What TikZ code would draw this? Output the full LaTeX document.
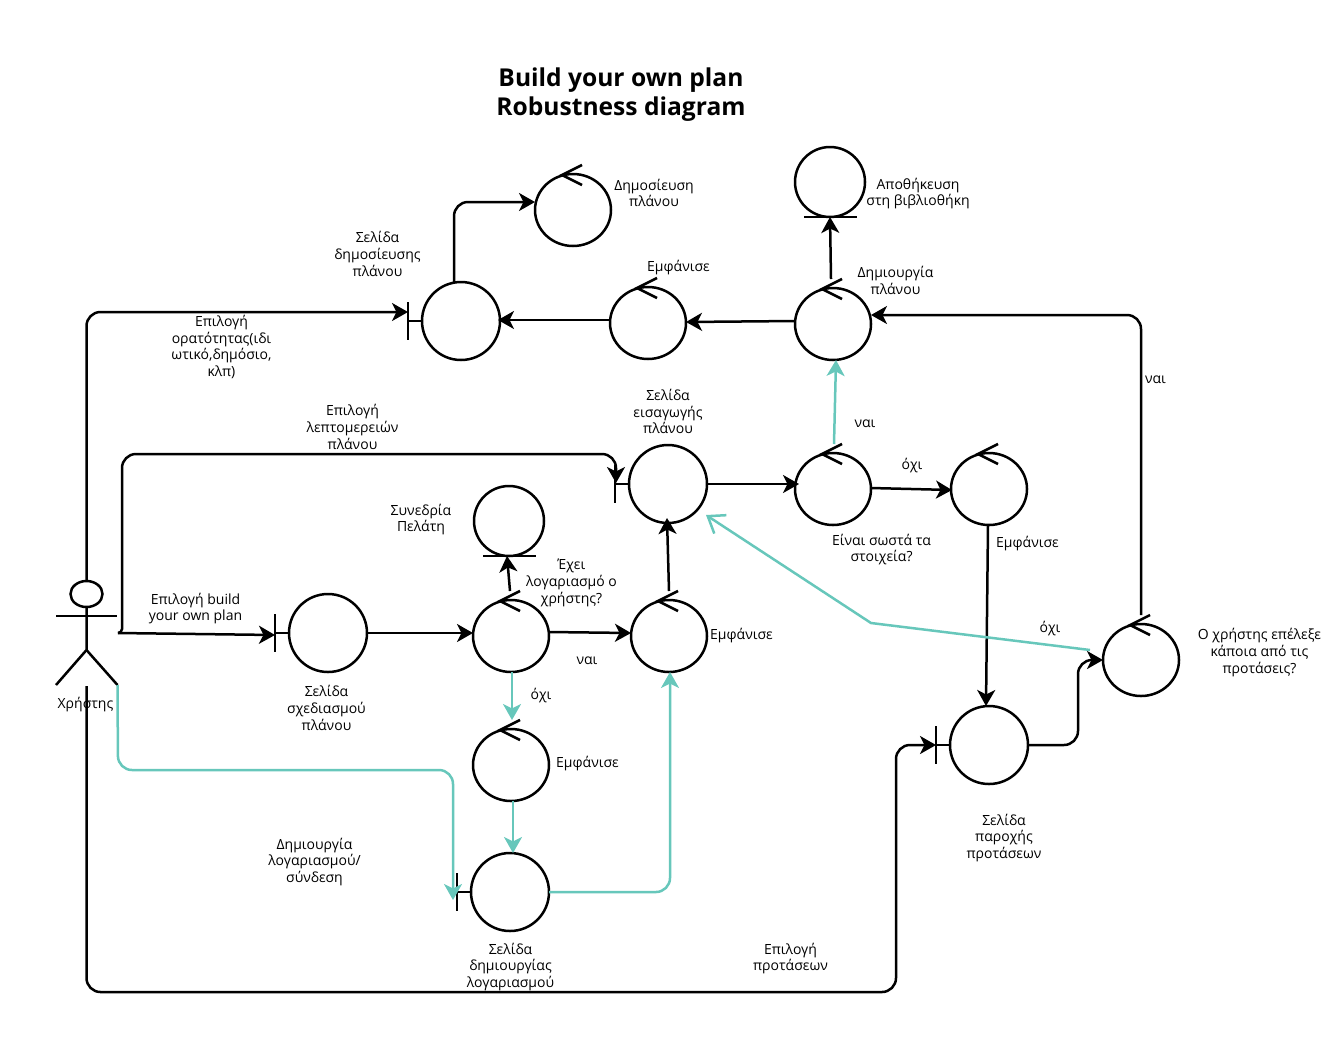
\documentclass[tikz,border=0pt]{standalone}
\usepackage{fontspec}
\setmainfont{Open Sans}
\usetikzlibrary{arrows.meta,shapes.geometric,calc}
\definecolor{tealc}{HTML}{67C7BB}
\tikzset{
  x=1pt,y=-1pt,
  every node/.style={font=\fontsize{14}{16.8}\selectfont,align=center,inner sep=0pt,outer sep=0pt},
  shapeline/.style={draw=black,line width=2.5pt,fill=none},
  obj/.style={shape=ellipse,draw=black,line width=2.5pt,minimum width=#1,minimum height=#1},
  conn/.style={draw=black,line width=2.5pt,rounded corners=14pt,-{Stealth[length=16pt,width=18pt,inset=4.5pt]}},
  tealconn/.style={conn,draw=tealc,color=tealc},
  tealopen/.style={draw=tealc,line width=2.5pt,-{Straight Barb[length=15pt,width=22pt,color=tealc]}},
  titletext/.style={font=\fontsize{24.6}{29}\selectfont\bfseries},
}
% controller: circle with a chevron on top
\newcommand{\ctrlobj}[3]{%
  \node[shape=ellipse,draw=black,line width=2.5pt,minimum width=76pt,minimum height=72pt] (#1) at (#2,#3) {};
  \draw[shapeline] (#2+9,#3-45) -- (#2-11,#3-35) -- (#2+9,#3-25);
  \coordinate (#1 t) at (#2,#3-45);
}
% boundary: circle with a bar on the left
\newcommand{\boundobj}[3]{%
  \node[obj=78pt] (#1) at (#2,#3) {};
  \coordinate (#1 bar) at (#2-53,#3);
  \draw[shapeline] (#2-53,#3-19) -- (#2-53,#3+19);
  \draw[shapeline] (#1 bar) -- (#1.west);
}
% entity: circle with a bar underneath
\newcommand{\entobj}[3]{%
  \node[obj=70pt] (#1) at (#2,#3) {};
  \coordinate (#1 bar) at (#2,#3+35);
  \draw[shapeline] (#2-26,#3+35) -- (#2+27,#3+35);
}
\begin{document}
\begin{tikzpicture}
\useasboundingbox (0,0) rectangle (1332,1045);
\node[titletext] (title) at (621,94.5) {Build your own plan\\Robustness diagram};

% actor
\node[shape=ellipse,draw=black,line width=2.5pt,minimum width=32pt,minimum height=26pt] (head) at (86.5,594) {};
\coordinate (hip) at (86.5,650);
\coordinate (armL) at (56,616);
\coordinate (armR) at (117,616);
\coordinate (legL) at (56,685);
\coordinate (legR) at (117.5,685);
\coordinate (hand) at (118,633);
\coordinate (foot) at (86.5,686);
\coordinate (bend) at (871,623);
\coordinate (chosenback) at (1090,650);
\draw[shapeline] (head.south) -- (hip) -- (legL);
\draw[shapeline] (hip) -- (legR);
\draw[shapeline] (armL) -- (armR);
\node (actorlabel) at (85.5,705) {Χρήστης};

% objects
\ctrlobj{pub}{573}{210}
\entobj{store}{830}{182}
\ctrlobj{make}{833}{324}
\ctrlobj{showa}{648}{323}
\boundobj{bpub}{461}{321}
\boundobj{binput}{668}{484}
\ctrlobj{check}{833}{489}
\ctrlobj{showb}{989}{489}
\entobj{sess}{509}{521}
\ctrlobj{has}{511}{636}
\ctrlobj{showc}{669}{636}
\boundobj{bplan}{328}{633}
\ctrlobj{showd}{511}{765}
\boundobj{bacc}{510}{892}
\boundobj{bsug}{989}{745}
\ctrlobj{chosen}{1141}{660}

% black connectors
\draw[conn] (head.north) -- (86.5,312) -- (bpub bar |- 0,312);
\draw[conn] [rounded corners=4pt] (hand) -- (122,633) [rounded corners=14pt] -- (122,454) -- (616,454) -- (616,483);
\draw[conn] (hand) -- ($(bplan bar)+(0,2)$);
\draw[conn] (foot) -- (86.5,992) -- (896,992) -- (896,745) -- (bsug bar);
\draw[conn] (bplan.east) -- ($(has.west)+(0,-3)$);
\draw[conn] ($(has.east)+(0,-4)$) -- ($(showc.west)+(0,-3)$);
\draw[conn] ($(has t)+(-1,0)$) -- ($(sess bar)+(-2,0)$);
\draw[conn] (showc t) -- ($(binput.south)+(-1,-5)$);
\draw[conn] (binput.east) -- ($(check.west)+(4,-5)$);
\draw[conn] ($(check.east)+(0,-1)$) -- ($(showb.west)+(1,1)$);
\draw[conn] ($(showb.south)+(-1,0)$) -- ($(bsug.north)+(-3,0)$);
\draw[conn] (bsug.east) -- (1078,745) -- (1078,660) -- (chosen.west);
\draw[conn] (chosen t) -- (1141,315) -- ($(make.east)+(0,-9)$);
\draw[conn] ($(make.west)+(0,-3)$) -- ($(showa.east)+(0,-1)$);
\draw[conn] ($(showa.west)+(0,-3)$) -- ($(bpub.east)+(-2,-1)$);
\draw[conn] (bpub.100) -- (454,202) -- ($(pub.west)+(0,-8)$);
\draw[conn] ($(make t)+(-2,0)$) -- (store bar);

% teal connectors
\draw[tealconn] (legR) -- (118,770) -- (453,770) -- (453,900);
\draw[tealconn] ($(has.south)+(1,0)$) -- ($(showd t)+(1,0)$);
\draw[tealconn] ($(showd.south)+(2,0)$) -- ($(bacc.north)+(3,0)$);
\draw[tealconn] (bacc.east) -- (670,892) -- ($(showc.south)+(1,0)$);
\draw[tealconn] ($(check t)+(1,0)$) -- ($(make.south)+(3,0)$);
\draw[tealopen] (chosenback) -- (bend) -- ($(binput.east)+(-1,31)$);

% labels
\node (l1) at (654,193) {Δημοσίευση\\πλάνου};
\node (l2) at (918,193.5) {Αποθήκευση\\στη βιβλιοθήκη};
\node (l3) at (377.5,254) {Σελίδα\\δημοσίευσης\\πλάνου};
\node (l4) at (678.5,267.5) {Εμφάνισε};
\node (l5) at (895.5,280.5) {Δημιουργία\\πλάνου};
\node (l6) at (221.5,347) {Επιλογή\\ορατότητας(ιδι\\ωτικό,δημόσιο,\\κλπ)};
\node (l7) at (1155.5,380) {ναι};
\node (l8) at (352.5,427) {Επιλογή\\λεπτομερειών\\πλάνου};
\node (l9) at (668,411.5) {Σελίδα\\εισαγωγής\\πλάνου};
\node (l10) at (865,424) {ναι};
\node (l11) at (912,466) {όχι};
\node (l12) at (421,519.5) {Συνεδρία\\Πελάτη};
\node (l13) at (881.5,549.5) {Είναι σωστά τα\\στοιχεία?};
\node (l14) at (1027.5,544) {Εμφάνισε};
\node (l15) at (571.5,583) {Έχει\\λογαριασμό ο\\χρήστης?};
\node (l16) at (195.5,608.5) {Επιλογή build\\your own plan};
\node (l17) at (741.5,636) {Εμφάνισε};
\node (l18) at (1050,629) {όχι};
\node (l19) at (1259.5,652.5) {Ο χρήστης επέλεξε\\κάποια από τις\\προτάσεις?};
\node (l20) at (587,661) {ναι};
\node (l21) at (326.5,708) {Σελίδα\\σχεδιασμού\\πλάνου};
\node (l22) at (541,696) {όχι};
\node (l23) at (587.5,764) {Εμφάνισε};
\node (l24) at (1004,838) {Σελίδα\\παροχής\\προτάσεων};
\node (l25) at (314.5,862) {Δημιουργία\\λογαριασμού/\\σύνδεση};
\node (l26) at (510.5,967) {Σελίδα\\δημιουργίας\\λογαριασμού};
\node (l27) at (790.5,958.5) {Επιλογή\\προτάσεων};
\end{tikzpicture}
\end{document}
